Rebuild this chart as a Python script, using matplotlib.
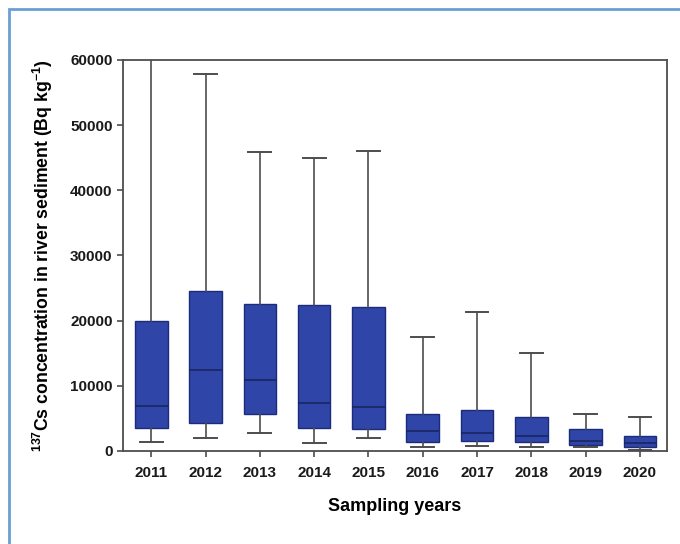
import numpy as np
import matplotlib
matplotlib.use('Agg')
import matplotlib.pyplot as plt
from matplotlib.patches import Rectangle

plt.rcParams['font.family'] = ['Liberation Sans', 'DejaVu Sans']
plt.rcParams['mathtext.fontset'] = 'custom'
plt.rcParams['mathtext.rm'] = 'Liberation Sans:bold'
plt.rcParams['mathtext.bf'] = 'Liberation Sans:bold'
plt.rcParams['mathtext.it'] = 'Liberation Sans:bold'
plt.rcParams['mathtext.default'] = 'regular'

# box statistics (Bq/kg)
years = ['2011', '2012', '2013', '2014', '2015',
         '2016', '2017', '2018', '2019', '2020']
whisk_lo = [1330, 2000, 2720, 1230, 2050, 560, 720, 670, 620, 200]
q1 = [3590, 4310, 5740, 3540, 3380, 1330, 1490, 1330, 870, 620]
median = [6870, 12400, 10870, 7380, 6670, 3080, 2820, 2260, 1590, 1180]
q3 = [19900, 24500, 22560, 22360, 22050, 5740, 6360, 5180, 3380, 2310]
whisk_hi = [62000, 57900, 45850, 44870, 45950, 17490, 21380, 14970, 5690, 5180]

stats = []
for i, y in enumerate(years):
    stats.append(dict(label=y, whislo=whisk_lo[i], q1=q1[i], med=median[i],
                      q3=q3[i], whishi=whisk_hi[i], fliers=[]))

fig = plt.figure(figsize=(6.8, 5.44), dpi=100)
ax = fig.add_axes([0.181, 0.171, 0.8, 0.719])

gray = '#4d4d4d'
ax.bxp(stats, positions=np.arange(1, len(years) + 1), widths=0.6,
       capwidths=0.42, patch_artist=True, showfliers=False,
       boxprops=dict(facecolor='#2f46a8', edgecolor='#1d2c7a', linewidth=1.0),
       medianprops=dict(color='#1a2560', linewidth=1.2),
       whiskerprops=dict(color=gray, linewidth=1.2),
       capprops=dict(color=gray, linewidth=1.4))

ax.set_xlim(0.48, 10.5)
ax.set_ylim(0, 60000)
ax.set_yticks(np.arange(0, 60001, 10000))
ax.set_xticks(np.arange(1, len(years) + 1))
ax.set_xticklabels(years)

for s in ax.spines.values():
    s.set_color(gray)
    s.set_linewidth(1.3)
ax.tick_params(direction='out', length=4, width=1.2, color=gray,
               labelsize=11)
ax.tick_params(axis='x', pad=7)
for lbl in ax.get_xticklabels() + ax.get_yticklabels():
    lbl.set_fontweight('bold')
    lbl.set_color('#1a1a1a')

ax.set_xlabel('Sampling years', fontsize=13, fontweight='bold', labelpad=13)
ax.set_ylabel(r'$^{137}$Cs concentration in river sediment (Bq kg$^{-1}$)',
              fontsize=12.7, fontweight='bold', labelpad=11)

# light blue frame around the panel
fig.patches.append(Rectangle((0.0132, -0.1), 1.2, 1.0835,
                             transform=fig.transFigure, fill=False,
                             edgecolor='#6a9fd4', linewidth=2))

plt.savefig('out.png', dpi=100)
